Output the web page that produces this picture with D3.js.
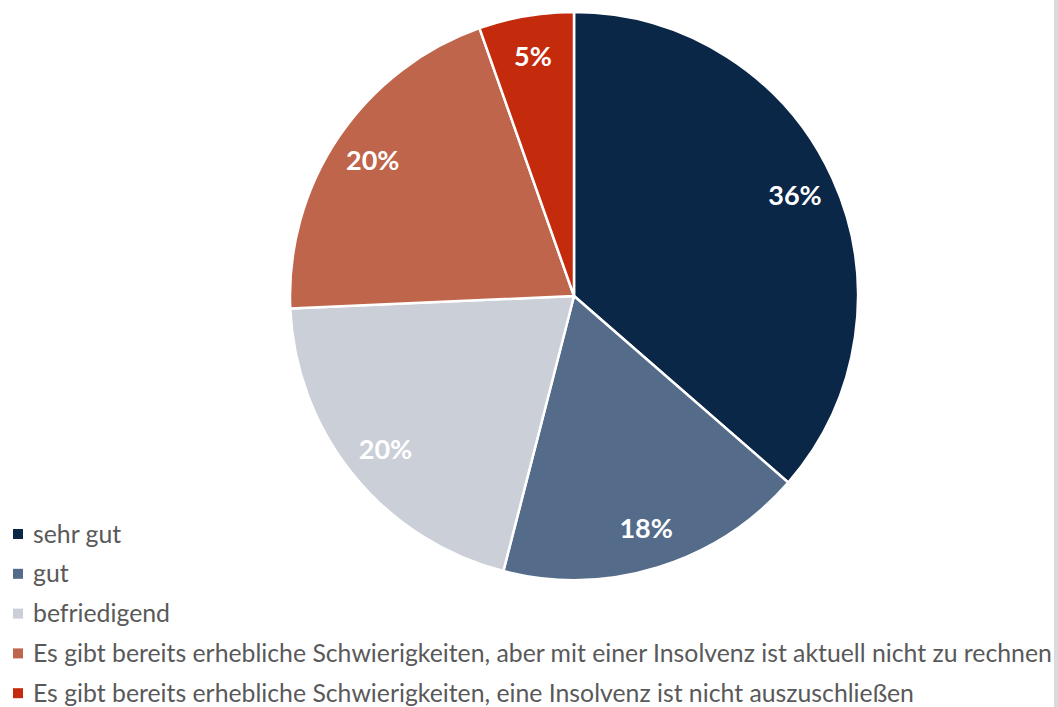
<!DOCTYPE html>
<meta charset="utf-8">
<head>
    <title>Pie</title>
</head>
<style>
    body { margin: 0; background: #fff; }
    svg text { font-family: Lato, "Open Sans", sans-serif; }
</style>
<div id="chart_div"></div>
<script src="https://d3js.org/d3.v7.min.js"></script>
<script>
    // data
    var categories = [
        "sehr gut",
        "gut",
        "befriedigend",
        "Es gibt bereits erhebliche Schwierigkeiten, aber mit einer Insolvenz ist aktuell nicht zu rechnen",
        "Es gibt bereits erhebliche Schwierigkeiten, eine Insolvenz ist nicht auszuschließen"
    ];
    var values = [36.4, 17.6, 20.3, 20.3, 5.4];
    var labels = ["36%", "18%", "20%", "20%", "5%"];
    var colors = ["#0b2748", "#546b8a", "#cbcfd8", "#bf654b", "#c42a0c"];

    var width = 1058, height = 707;
    var cx = 574, cy = 296, radius = 284;

    var svg = d3.select("#chart_div")
      .append("svg")
        .attr("width", width)
        .attr("height", height);

    // frame edge on the right
    svg.append("rect")
        .attr("x", 1054)
        .attr("y", 0)
        .attr("width", 4)
        .attr("height", height)
        .attr("fill", "#dadada");

    var pie = d3.pie()
        .sort(null)
        .value(function(d) { return d; });

    var arc = d3.arc()
        .innerRadius(0)
        .outerRadius(radius);

    var labelArc = d3.arc()
        .innerRadius(radius * 0.855)
        .outerRadius(radius * 0.855);

    var g = svg.append("g")
        .attr("transform", "translate(" + cx + "," + cy + ")");

    var arcs = pie(values);

    g.selectAll("path")
      .data(arcs)
      .enter()
      .append("path")
        .attr("d", arc)
        .attr("fill", function(d, i) { return colors[i]; })
        .attr("stroke", "white")
        .attr("stroke-width", 2.5)
        .attr("stroke-linejoin", "round");

    g.selectAll("text.lbl")
      .data(arcs)
      .enter()
      .append("text")
        .attr("class", "lbl")
        .attr("transform", function(d) { return "translate(" + labelArc.centroid(d) + ")"; })
        .attr("text-anchor", "middle")
        .attr("dy", "0.36em")
        .attr("fill", "white")
        .attr("font-weight", "bold")
        .attr("font-size", 27)
        .text(function(d, i) { return labels[i]; });

    // legend
    var legend = svg.append("g")
        .attr("transform", "translate(13,534)");

    var item = legend.selectAll("g")
      .data(categories)
      .enter()
      .append("g")
        .attr("transform", function(d, i) { return "translate(0," + (i * 39.8) + ")"; });

    item.append("rect")
        .attr("x", 0)
        .attr("y", -5)
        .attr("width", 10)
        .attr("height", 10)
        .attr("fill", function(d, i) { return colors[i]; });

    item.append("text")
        .attr("x", 20)
        .attr("dy", "0.35em")
        .attr("font-size", 24.8)
        .attr("fill", "#595959")
        .text(function(d) { return d; });
</script>
